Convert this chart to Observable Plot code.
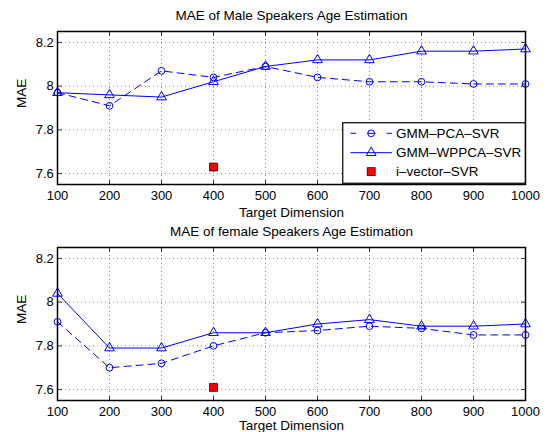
<!DOCTYPE html>
<html><head><meta charset="utf-8">
<script src="https://cdn.jsdelivr.net/npm/d3@7"></script>
<script src="https://cdn.jsdelivr.net/npm/@observablehq/plot@0.6"></script>
<style>
body{margin:0;background:#fff;}
#wrap{position:relative;width:551px;height:432px;font-family:"Liberation Sans",Arial,sans-serif;background:#fff;overflow:hidden;}
#wrap svg{display:block;overflow:visible;}
.panel{position:absolute;left:0;}
</style></head><body>
<div id="wrap"></div>
<script>
// ---- data ----
const dims = [100, 200, 300, 400, 500, 600, 700, 800, 900, 1000];
const malePCA   = [7.97, 7.91, 8.07, 8.04, 8.09, 8.04, 8.02, 8.02, 8.01, 8.01];
const maleWPPCA = [7.97, 7.96, 7.95, 8.02, 8.09, 8.12, 8.12, 8.16, 8.16, 8.17];
const maleIvec  = [{dim: 400, mae: 7.63}];
const femalePCA   = [7.91, 7.70, 7.72, 7.80, 7.86, 7.87, 7.89, 7.88, 7.85, 7.85];
const femaleWPPCA = [8.04, 7.79, 7.79, 7.86, 7.86, 7.90, 7.92, 7.89, 7.89, 7.90];
const femaleIvec  = [{dim: 400, mae: 7.61}];
const xTicks = [100, 200, 300, 400, 500, 600, 700, 800, 900, 1000];
const yTicks = [7.6, 7.8, 8.0, 8.2];
const seriesNames = ["GMM–PCA–SVR", "GMM–WPPCA–SVR", "i–vector–SVR"];
const titles = ["MAE of Male Speakers Age Estimation", "MAE of female Speakers Age Estimation"];
const xLabel = "Target Dimension";
const yLabel = "MAE";

const BLUE = "#0000ff";
const FONT = '"Liberation Sans", Arial, sans-serif';
const tickShape = {draw(ctx, l) { ctx.moveTo(0, 0); ctx.lineTo(0, -l); }};

function panel(title, pca, wppca, ivec, labelDy) {
  const pcaRows = dims.map((d, i) => ({dim: d, mae: pca[i]}));
  const wpRows = dims.map((d, i) => ({dim: d, mae: wppca[i]}));
  const grid = {stroke: "#000", strokeOpacity: 0.6, strokeDasharray: "1,3", strokeWidth: 0.8};
  const tk = {shape: tickShape, length: 4, anchor: "start", stroke: "#000", strokeWidth: 0.8};
  return Plot.plot({
    width: 551, height: 216,
    marginLeft: 57, marginRight: 26, marginTop: 31, marginBottom: 32,
    style: {fontFamily: FONT, fontSize: "13px", color: "#000", background: "transparent", overflow: "visible"},
    x: {domain: [100, 1000]},
    y: {domain: [7.55, 8.25]},
    marks: [
      Plot.gridX(xTicks, grid),
      Plot.gridY(yTicks, grid),
      Plot.axisX(xTicks, {anchor: "bottom", tickSize: 0, tickPadding: 6, label: null, fontSize: 13,
        tickFormat: d => String(d)}),
      Plot.axisY(yTicks, {anchor: "left", tickSize: 0, tickPadding: 3.7, label: null, fontSize: 13,
        tickFormat: d => String(+(+d).toFixed(1))}),
      Plot.vector(xTicks, {...tk, x: d => d, frameAnchor: "bottom", rotate: 0}),
      Plot.vector(xTicks, {...tk, x: d => d, frameAnchor: "top", rotate: 180}),
      Plot.vector(yTicks, {...tk, y: d => d, frameAnchor: "left", rotate: 90}),
      Plot.vector(yTicks, {...tk, y: d => d, frameAnchor: "right", rotate: -90}),
      Plot.line(pcaRows, {x: "dim", y: "mae", stroke: BLUE, strokeWidth: 1, strokeDasharray: "7,5"}),
      Plot.line(wpRows, {x: "dim", y: "mae", stroke: BLUE, strokeWidth: 1}),
      Plot.dot(pcaRows, {x: "dim", y: "mae", r: 3.4, stroke: BLUE, fill: "none", strokeWidth: 1}),
      Plot.dot(wpRows, {x: "dim", y: "mae", r: 3.6, symbol: "triangle", stroke: BLUE, fill: "none", strokeWidth: 1}),
      Plot.dot(ivec, {x: "dim", y: "mae", r: 4.5, symbol: "square", fill: "#ff0000", stroke: "#000", strokeWidth: 0.7}),
      Plot.frame({stroke: "#000", strokeWidth: 1.5}),
      Plot.text([title], {text: d => d, frameAnchor: "top", dy: -15.5, lineAnchor: "middle", fontSize: 13.5}),
      Plot.text([xLabel], {text: d => d, frameAnchor: "bottom", dy: labelDy, lineAnchor: "middle", fontSize: 13.5}),
      Plot.text([yLabel], {text: d => d, frameAnchor: "left", dx: -36, rotate: -90, lineAnchor: "middle", fontSize: 13.5})
    ]
  });
}

const wrap = document.getElementById("wrap");
const p2 = panel(titles[1], femalePCA, femaleWPPCA, femaleIvec, 25.5);
p2.classList.add("panel"); p2.style.top = "216px";
const p1 = panel(titles[0], malePCA, maleWPPCA, maleIvec, 28);
p1.classList.add("panel"); p1.style.top = "0px";
wrap.appendChild(p2);
wrap.appendChild(p1);

// ---- legend (inside top panel, lower right) ----
const lg = d3.select(wrap).append("svg")
  .attr("width", 184).attr("height", 62)
  .style("position", "absolute").style("left", "341.5px").style("top", "122px");
lg.append("rect").attr("x", 0.75).attr("y", 0.75).attr("width", 182.5).attr("height", 60.5)
  .attr("fill", "#fff").attr("stroke", "#000").attr("stroke-width", 1.2);
const rowsY = [11.3, 30.7, 49.7];
const x0 = 8.5, x1 = 50, xm = 29.2, xt = 54;
// row 1 : dashed + circle
lg.append("line").attr("x1", x0).attr("x2", x1).attr("y1", rowsY[0]).attr("y2", rowsY[0])
  .attr("stroke", BLUE).attr("stroke-dasharray", "5.5,11,8.5,11,5.5,20");
lg.append("circle").attr("cx", xm).attr("cy", rowsY[0]).attr("r", 3.4).attr("fill", "none").attr("stroke", BLUE);
// row 2 : solid + triangle
lg.append("line").attr("x1", x0).attr("x2", x1).attr("y1", rowsY[1]).attr("y2", rowsY[1]).attr("stroke", BLUE);
lg.append("path").attr("transform", `translate(${xm},${rowsY[1]})`)
  .attr("d", d3.symbol(d3.symbolTriangle, 3.6 * 3.6 * Math.PI)()).attr("fill", "none").attr("stroke", BLUE);
// row 3 : red square
lg.append("rect").attr("x", xm - 4).attr("y", rowsY[2] - 4).attr("width", 8).attr("height", 8)
  .attr("fill", "#ff0000").attr("stroke", "#000").attr("stroke-width", 0.7);
seriesNames.forEach((n, i) => {
  lg.append("text").attr("x", xt).attr("y", rowsY[i]).attr("dy", "0.35em")
    .attr("font-family", FONT).attr("font-size", 13.5).text(n);
});
</script>
</body></html>
